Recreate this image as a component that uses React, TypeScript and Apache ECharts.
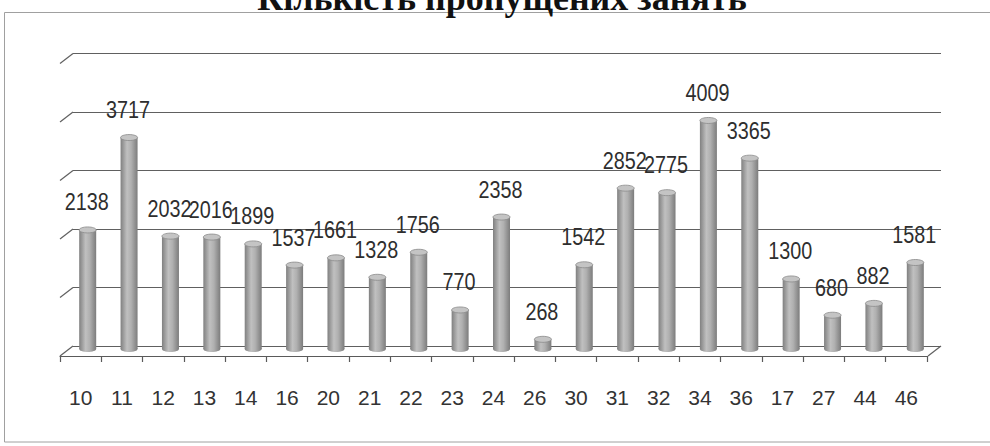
import React, { useEffect, useRef } from "react";
import * as echarts from "echarts";

const titleText = "Кількість пропущених занять";
const categories = ["10", "11", "12", "13", "14", "16", "20", "21", "22", "23", "24", "26", "30", "31", "32", "34", "36", "17", "27", "44", "46"];
const values = [2138, 3717, 2032, 2016, 1899, 1537, 1661, 1328, 1756, 770, 2358, 268, 1542, 2852, 2775, 4009, 3365, 1300, 680, 882, 1581];
const gridValues = [0, 1000, 2000, 3000, 4000, 5000];

const FONT = "'Liberation Sans', Arial, sans-serif";
const DEPTH_X = 13;
const DEPTH_Y = 10;

export default function App() {
  const ref = useRef<HTMLDivElement>(null);

  useEffect(() => {
    if (!ref.current) return;
    const chart = echarts.init(ref.current, null, { renderer: "svg" });

    const barGradient = new echarts.graphic.LinearGradient(0, 0, 1, 0, [
      { offset: 0, color: "#808080" },
      { offset: 0.38, color: "#c0c0c0" },
      { offset: 0.62, color: "#b0b0b0" },
      { offset: 1, color: "#7c7c7c" },
    ]);

    const option: any = {
      animation: false,
      backgroundColor: "#ffffff",
      graphic: [
        {
          type: "rect",
          z: 0,
          shape: { x: 4.5, y: 12.5, width: 1000, height: 429.5 },
          style: { fill: "none", stroke: "#a0a0a0", lineWidth: 1 },
          silent: true,
        },
        {
          type: "text",
          z: 10,
          x: 502,
          y: -2,
          style: {
            text: titleText,
            fontFamily: "'Liberation Serif', 'Times New Roman', serif",
            fontWeight: "bold",
            fontSize: 36,
            fill: "#111",
            align: "center",
            verticalAlign: "middle",
          },
          silent: true,
        },
      ],
      grid: [
        { left: 60, right: 63, top: 63.5, bottom: 90 },
        { left: 73, right: 49, top: 53.5, bottom: 100 },
        { left: 67, right: 54, top: 59.5, bottom: 94 },
      ],
      xAxis: [
        {
          gridIndex: 0,
          type: "category",
          data: categories,
          boundaryGap: true,
          axisLine: { show: true, lineStyle: { color: "#5a5a5a", width: 1.2 } },
          axisTick: { show: true, length: 6, lineStyle: { color: "#5a5a5a", width: 1.2 } },
          axisLabel: { show: true, interval: 0, margin: 31, fontSize: 21, fontFamily: FONT, color: "#333" },
          splitLine: { show: false },
        },
        { gridIndex: 1, type: "value", min: 0, max: 1, show: false },
        { gridIndex: 2, type: "category", data: categories, boundaryGap: true, show: false },
      ],
      yAxis: [
        { gridIndex: 0, type: "value", min: 0, max: 5000, interval: 1000, show: false },
        {
          gridIndex: 1,
          type: "value",
          min: 0,
          max: 5000,
          interval: 1000,
          axisLabel: { show: false },
          axisLine: { show: false },
          axisTick: { show: false },
          splitLine: { show: true, lineStyle: { color: "#606060", width: 1.2 } },
        },
        { gridIndex: 2, type: "value", min: 0, max: 5000, interval: 1000, show: false },
      ],
      series: [
        {
          type: "custom",
          xAxisIndex: 1,
          yAxisIndex: 1,
          clip: false,
          silent: true,
          data: gridValues.map((v) => [0, v]),
          renderItem: (params: any, api: any) => {
            const v = api.value(1);
            const p = api.coord([0, v]);
            const children: any[] = [
              {
                type: "line",
                shape: { x1: p[0], y1: p[1], x2: p[0] - DEPTH_X, y2: p[1] + DEPTH_Y },
                style: { stroke: "#606060", lineWidth: 1.2 },
              },
            ];
            if (v === 0) {
              const q = api.coord([1, 0]);
              children.push({
                type: "line",
                shape: { x1: q[0], y1: q[1], x2: q[0] - DEPTH_X, y2: q[1] + DEPTH_Y },
                style: { stroke: "#606060", lineWidth: 1.2 },
              });
            }
            return { type: "group", children };
          },
        },
        {
          type: "custom",
          xAxisIndex: 2,
          yAxisIndex: 2,
          clip: false,
          silent: true,
          z: 5,
          data: values.map((v, i) => [i, v]),
          renderItem: (params: any, api: any) => {
            const i = api.value(0);
            const v = api.value(1);
            const top = api.coord([i, v]);
            const base = api.coord([i, 0]);
            const w = 17;
            const ry = 3;
            const cx = top[0];
            const capCy = top[1] + ry;
            const baseCy = base[1] - ry;
            return {
              type: "group",
              children: [
                {
                  type: "ellipse",
                  shape: { cx, cy: baseCy, rx: w / 2, ry },
                  style: { fill: barGradient },
                },
                {
                  type: "rect",
                  shape: { x: cx - w / 2, y: capCy, width: w, height: Math.max(baseCy - capCy, 0) },
                  style: { fill: barGradient },
                },
                {
                  type: "ellipse",
                  shape: { cx, cy: capCy, rx: w / 2, ry },
                  style: { fill: "#c4c4c4", stroke: "#8a8a8a", lineWidth: 0.8 },
                },
                {
                  type: "text",
                  x: cx - 1,
                  y: top[1] - 24,
                  scaleX: 0.86,
                  style: {
                    text: String(v),
                    fontFamily: FONT,
                    fontSize: 23,
                    fill: "#2e2e2e",
                    align: "center",
                    verticalAlign: "middle",
                  },
                },
              ],
            };
          },
        },
      ],
    };

    chart.setOption(option);
    return () => {
      chart.dispose();
    };
  }, []);

  return (
    <div
      ref={ref}
      style={{ position: "fixed", left: 0, top: 0, width: 990, height: 446 }}
    />
  );
}
